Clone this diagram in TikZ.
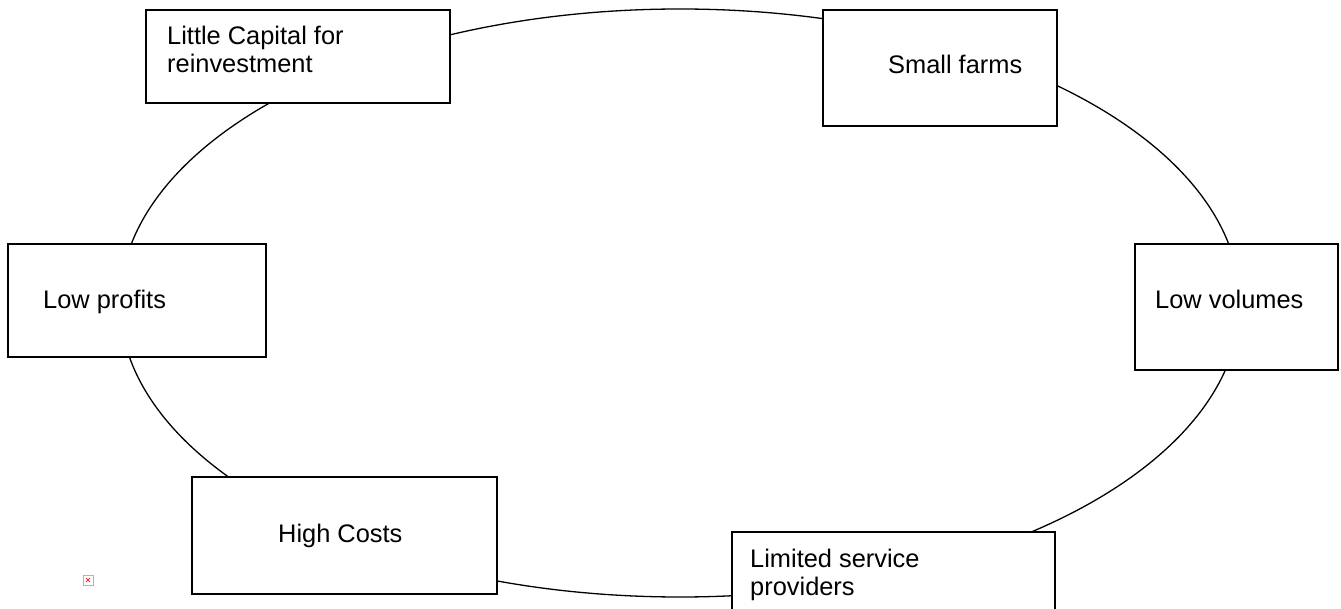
\documentclass[tikz,border=0pt]{standalone}
\usepackage{fontspec}
\setmainfont{Liberation Sans}
\begin{document}
\begin{tikzpicture}[x=1pt,y=-1pt,
  box/.style={draw=black,line width=1.4pt,fill=white},
  lbl/.style={anchor=base west,inner sep=0pt,font=\fontsize{25.4}{29}\selectfont},
  cycle/.style={draw=black,line width=1.3pt}]
\useasboundingbox (0,0) rectangle (1341,609);
% the loop behind the boxes
\draw[cycle] (680,303) ellipse [x radius=560, y radius=294];
% boxes
\draw[box] (146,10) rectangle (450,103);
\draw[box] (823,10) rectangle (1057,126);
\draw[box] (8,244) rectangle (266,357);
\draw[box] (1135,244) rectangle (1338,370);
\draw[box] (192,477) rectangle (497,594);
\draw[box] (732,532) rectangle (1055,612);
% labels
\node[lbl] (capital1) at (167,45) {Little Capital for};
\node[lbl] (capital2) at (167,73) {reinvestment};
\node[lbl] (farms) at (888,74) {Small farms};
\node[lbl] (profits) at (43,309) {Low profits};
\node[lbl] (volumes) at (1155,309) {Low volumes};
\node[lbl] (costs) at (278,542) {High Costs};
\node[lbl] (providers1) at (750,567) {Limited service};
\node[lbl] (providers2) at (750,595) {providers};
% small placeholder icon
\draw[gray!60,line width=0.6pt,fill=white] (83,575) rectangle (93,585);
\draw[red!80,line width=1pt] (86,578) -- (90,582) (86,582) -- (90,578);
\end{tikzpicture}
\end{document}
